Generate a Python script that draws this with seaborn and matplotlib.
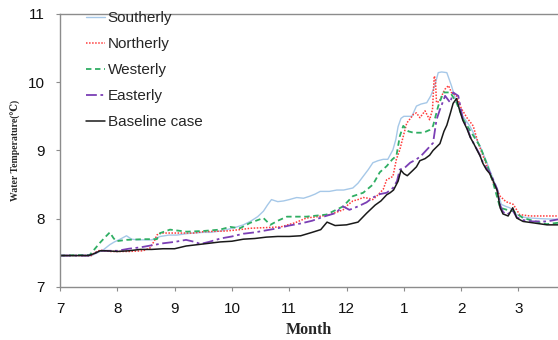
import numpy as np
import pandas as pd
import seaborn as sns
import matplotlib.pyplot as plt

# months counted from 1 July (0 = Jul, 6 = Jan ...)
month_ticks = [0, 1, 2, 3, 4, 5, 6, 7, 8]
month_labels = ['7', '8', '9', '10', '11', '12', '1', '2', '3']

# Southerly
south_x = [0, 0.55, 0.65, 0.75, 0.87, 0.95, 1.05, 1.16, 1.25, 1.35,
           1.45, 1.6, 1.75, 1.9, 2.04, 2.2, 2.33, 2.5, 2.62, 2.8,
           2.91, 3.05, 3.2, 3.32, 3.45, 3.55, 3.62, 3.69, 3.8, 3.9,
           4.0, 4.13, 4.25, 4.36, 4.45, 4.54, 4.7, 4.83, 4.95, 5.11,
           5.2, 5.29, 5.38, 5.46, 5.55, 5.64, 5.72, 5.81, 5.86, 5.9,
           5.95, 6.0, 6.14, 6.22, 6.3, 6.4, 6.47, 6.54, 6.6, 6.66,
           6.75, 6.83, 6.92, 7.03, 7.15, 7.25, 7.33, 7.45, 7.55, 7.62,
           7.7, 7.78, 7.85, 7.97, 8.1, 8.2, 8.4, 8.69]
south_y = [7.46, 7.46, 7.50, 7.54, 7.62, 7.66, 7.70, 7.75, 7.70, 7.69,
           7.69, 7.69, 7.74, 7.76, 7.76, 7.78, 7.79, 7.80, 7.80, 7.82,
           7.84, 7.87, 7.91, 7.96, 8.03, 8.11, 8.20, 8.28, 8.25, 8.26,
           8.28, 8.31, 8.30, 8.33, 8.36, 8.40, 8.40, 8.42, 8.42, 8.45,
           8.52, 8.62, 8.72, 8.82, 8.85, 8.87, 8.87, 9.01, 9.16, 9.35,
           9.47, 9.50, 9.50, 9.65, 9.68, 9.70, 9.80, 9.95, 10.14, 10.15,
           10.14, 9.95, 9.70, 9.50, 9.36, 9.20, 9.06, 8.82, 8.60, 8.45,
           8.21, 8.18, 8.16, 8.06, 8.02, 8.01, 8.00, 7.99]

# Northerly
north_x = [0, 0.55, 0.6, 0.7, 0.87, 1.0, 1.2, 1.45, 1.57, 1.65,
           1.69, 1.75, 2.0, 2.33, 2.5, 2.9, 3.14, 3.32, 3.6, 3.85,
           4.1, 4.3, 4.5, 4.71, 4.94, 5.02, 5.11, 5.2, 5.29, 5.38,
           5.46, 5.55, 5.64, 5.7, 5.81, 5.87, 5.93, 5.96, 6.05, 6.17,
           6.22, 6.28, 6.37, 6.45, 6.5, 6.53, 6.55, 6.57, 6.62, 6.66,
           6.72, 6.78, 6.83, 6.92, 7.0, 7.1, 7.21, 7.3, 7.45, 7.55,
           7.68, 7.78, 7.91, 8.02, 8.2, 8.49, 8.69]
north_y = [7.46, 7.46, 7.50, 7.54, 7.52, 7.52, 7.52, 7.53, 7.57, 7.68,
           7.76, 7.79, 7.79, 7.79, 7.81, 7.82, 7.84, 7.86, 7.87, 7.88,
           7.94, 8.01, 8.03, 8.06, 8.13, 8.20, 8.26, 8.28, 8.31, 8.30,
           8.28, 8.35, 8.43, 8.57, 8.62, 8.87, 9.01, 9.11, 9.40, 9.53,
           9.55, 9.48, 9.58, 9.45, 9.60, 10.09, 10.05, 9.70, 9.72, 9.80,
           9.90, 9.95, 9.85, 9.80, 9.62, 9.48, 9.36, 9.10, 8.77, 8.55,
           8.33, 8.25, 8.21, 8.06, 8.04, 8.04, 8.04]

# Westerly
west_x = [0, 0.52, 0.6, 0.7, 0.8, 0.87, 0.93, 0.98, 1.16, 1.45,
          1.69, 1.75, 1.92, 2.21, 2.5, 2.79, 2.97, 3.14, 3.32, 3.55,
          3.67, 3.8, 3.96, 4.3, 4.65, 4.94, 5.11, 5.29, 5.46, 5.58,
          5.7, 5.8, 5.87, 5.93, 5.99, 6.08, 6.17, 6.34, 6.45, 6.51,
          6.6, 6.69, 6.81, 6.92, 7.04, 7.15, 7.33, 7.45, 7.56, 7.68,
          7.8, 7.91, 8.08, 8.3, 8.49, 8.69]
west_y = [7.46, 7.47, 7.55, 7.65, 7.74, 7.80, 7.72, 7.67, 7.69, 7.70,
          7.70, 7.79, 7.84, 7.81, 7.82, 7.84, 7.88, 7.86, 7.94, 8.01,
          7.91, 7.97, 8.03, 8.03, 8.06, 8.18, 8.33, 8.38, 8.50, 8.68,
          8.77, 8.87, 8.92, 9.21, 9.36, 9.28, 9.26, 9.26, 9.30, 9.36,
          9.65, 9.85, 9.85, 9.70, 9.45, 9.30, 9.06, 8.80, 8.52, 8.16,
          8.13, 8.11, 8.01, 7.96, 7.92, 7.94]

# Easterly
east_x = [0, 0.5, 0.6, 0.7, 0.8, 1.0, 1.2, 1.4, 1.6, 1.8,
          2.0, 2.2, 2.35, 2.45, 2.6, 2.8, 3.0, 3.2, 3.4, 3.6,
          3.8, 4.0, 4.2, 4.4, 4.6, 4.8, 4.94, 5.05, 5.2, 5.35,
          5.46, 5.58, 5.7, 5.81, 5.88, 5.93, 6.02, 6.11, 6.22, 6.3,
          6.4, 6.51, 6.57, 6.63, 6.72, 6.81, 6.86, 6.95, 7.03, 7.1,
          7.16, 7.22, 7.28, 7.33, 7.38, 7.44, 7.5, 7.56, 7.63, 7.68,
          7.73, 7.8, 7.9, 7.97, 8.08, 8.25, 8.5, 8.69]
east_y = [7.46, 7.46, 7.49, 7.53, 7.53, 7.53, 7.56, 7.58, 7.61, 7.64,
          7.66, 7.69, 7.66, 7.63, 7.66, 7.71, 7.74, 7.78, 7.80, 7.83,
          7.86, 7.90, 7.93, 7.97, 8.03, 8.08, 8.18, 8.13, 8.18, 8.24,
          8.31, 8.36, 8.38, 8.45, 8.55, 8.72, 8.75, 8.82, 8.87, 8.92,
          9.01, 9.11, 9.45, 9.60, 9.80, 9.70, 9.85, 9.80, 9.46, 9.34,
          9.20, 9.10, 9.01, 8.93, 8.82, 8.74, 8.68, 8.57, 8.43, 8.20,
          8.10, 8.06, 8.12, 8.02, 7.98, 7.96, 7.96, 7.99]

# Baseline case
base_x = [0, 0.5, 0.6, 0.7, 0.8, 1.0, 1.2, 1.4, 1.6, 1.8,
          2.0, 2.2, 2.4, 2.6, 2.8, 3.0, 3.2, 3.4, 3.6, 3.8,
          4.0, 4.2, 4.4, 4.55, 4.66, 4.8, 5.0, 5.2, 5.35, 5.5,
          5.6, 5.7, 5.76, 5.82, 5.9, 5.95, 6.0, 6.06, 6.16, 6.22,
          6.28, 6.37, 6.45, 6.51, 6.57, 6.63, 6.7, 6.75, 6.81, 6.86,
          6.92, 6.97, 7.03, 7.1, 7.16, 7.22, 7.28, 7.33, 7.38, 7.44,
          7.5, 7.56, 7.63, 7.68, 7.73, 7.82, 7.9, 7.97, 8.08, 8.25,
          8.5, 8.69]
base_y = [7.46, 7.46, 7.49, 7.53, 7.53, 7.52, 7.53, 7.55, 7.55, 7.56,
          7.56, 7.60, 7.62, 7.64, 7.66, 7.67, 7.70, 7.71, 7.73, 7.74,
          7.74, 7.75, 7.80, 7.84, 7.95, 7.90, 7.91, 7.95, 8.08, 8.20,
          8.26, 8.35, 8.38, 8.42, 8.55, 8.71, 8.66, 8.63, 8.71, 8.76,
          8.85, 8.88, 8.93, 9.00, 9.05, 9.10, 9.28, 9.37, 9.54, 9.69,
          9.76, 9.60, 9.44, 9.32, 9.19, 9.10, 9.00, 8.92, 8.81, 8.72,
          8.66, 8.55, 8.41, 8.16, 8.07, 8.04, 8.16, 8.01, 7.96, 7.94,
          7.91, 7.91]

sns.set_theme(style='white')
plt.rcParams['font.family'] = ['Liberation Sans', 'DejaVu Sans']

fig = plt.figure(figsize=(5.58, 3.4), dpi=100)
ax = fig.add_axes([0.1075, 0.156, 0.8925, 0.803])

series = [
    ('Southerly', south_x, south_y, '#a6c8e8', '-', 1.0),
    ('Northerly', north_x, north_y, '#ff3b3b', (0, (1, 1)), 1.1),
    ('Westerly', west_x, west_y, '#2fae63', (0, (3, 2)), 1.3),
    ('Easterly', east_x, east_y, '#7b3fb5', (0, (6, 2, 1.5, 2)), 1.3),
    ('Baseline case', base_x, base_y, '#1a1a1a', '-', 1.1),
]
for name, xs, ys, col, ls, lw in series:
    sns.lineplot(x=xs, y=ys, ax=ax, color=col, linestyle=ls, linewidth=lw,
                 label=name)

ax.set_xlim(0, 8.69)
ax.set_ylim(7, 11)
ax.set_xticks(month_ticks)
ax.set_xticklabels(month_labels)
ax.set_yticks([7, 8, 9, 10, 11])

for side in ['left', 'bottom', 'top']:
    ax.spines[side].set_color('#8c8c8c')
    ax.spines[side].set_linewidth(1.0)
ax.spines['right'].set_visible(False)
ax.tick_params(axis='both', labelsize=11, colors='#8c8c8c', labelcolor='#111111',
               direction='out', length=3, width=0.8, bottom=True, left=True)
ax.tick_params(axis='y', pad=8)
ax.tick_params(axis='x', pad=8)

ax.set_xlabel('Month', fontsize=11.5, fontweight='bold',
              family=['Liberation Serif', 'DejaVu Serif'], labelpad=4)
ax.set_ylabel('Water Temperature(℃)', fontsize=7, fontweight='bold',
              family=['Liberation Serif', 'DejaVu Serif'], labelpad=5)

ax.legend(loc='upper left', bbox_to_anchor=(0.025, 1.06), frameon=False,
          fontsize=11, handlelength=1.2, handletextpad=0.2, labelspacing=0.78)

fig.savefig('out.png', dpi=100)
